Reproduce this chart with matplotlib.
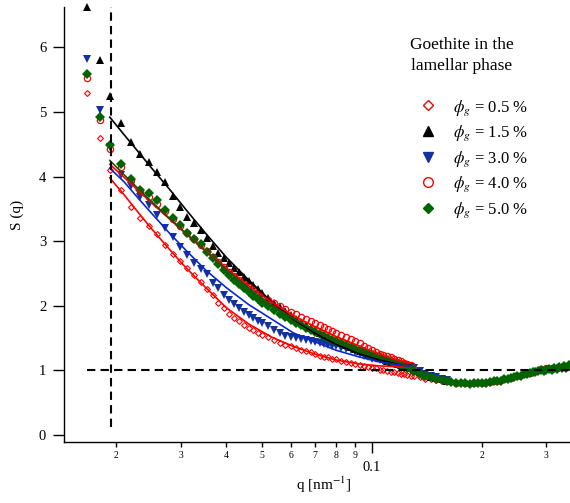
import numpy as np
import matplotlib
matplotlib.use("Agg")
import matplotlib.pyplot as plt
from matplotlib.lines import Line2D
from matplotlib.ticker import NullLocator

plt.rcParams["font.family"] = ["Liberation Serif", "DejaVu Serif"]
plt.rcParams["mathtext.fontset"] = "stix"

# q grid shared by every series at low q (nm^-1)
q_lo = [0.0166, 0.0180, 0.0192, 0.0206, 0.0219, 0.0232, 0.0246, 0.0258, 0.0272, 0.0285,
        0.0299, 0.0313, 0.0326, 0.0340, 0.0353, 0.0367, 0.0380, 0.0394, 0.0407, 0.0420,
        0.0434, 0.0447, 0.0461, 0.0474, 0.0488, 0.0501, 0.0520, 0.0540, 0.0560, 0.0580,
        0.0600, 0.0620, 0.0640, 0.0660, 0.0680, 0.0700, 0.0720, 0.0740, 0.0760, 0.0780,
        0.0800, 0.0825, 0.0850, 0.0875, 0.0900, 0.0925, 0.0950, 0.0975, 0.1000, 0.1025,
        0.1050, 0.1075, 0.1100, 0.1125, 0.1150, 0.1175, 0.1200, 0.1225, 0.1250, 0.1275]

s05 = [5.29, 4.60, 4.10, 3.79, 3.53, 3.36, 3.24, 3.11, 2.94, 2.80,
       2.69, 2.58, 2.47, 2.37, 2.26, 2.16, 2.05, 1.96, 1.88, 1.81,
       1.76, 1.71, 1.66, 1.62, 1.58, 1.55, 1.51, 1.47, 1.43, 1.40,
       1.37, 1.34, 1.32, 1.30, 1.28, 1.26, 1.23, 1.21, 1.20, 1.18,
       1.17, 1.15, 1.13, 1.11, 1.10, 1.08, 1.07, 1.05, 1.04, 1.03,
       1.01, 1.00, 0.99, 0.98, 0.97, 0.96, 0.95, 0.94, 0.93, 0.92]
s15 = [6.62, 5.80, 5.24, 4.83, 4.53, 4.35, 4.22, 4.07, 3.92, 3.70,
       3.53, 3.38, 3.28, 3.17, 3.05, 2.92, 2.82, 2.74, 2.67, 2.59,
       2.52, 2.45, 2.38, 2.32, 2.26, 2.20, 2.12, 2.05, 1.98, 1.92,
       1.86, 1.80, 1.75, 1.70, 1.66, 1.62, 1.58, 1.54, 1.51, 1.48,
       1.45, 1.42, 1.39, 1.36, 1.33, 1.30, 1.28, 1.25, 1.23, 1.21,
       1.19, 1.17, 1.15, 1.13, 1.11, 1.10, 1.08, 1.06, 1.05, 1.03]
s30 = [5.82, 5.03, 4.46, 4.02, 3.85, 3.68, 3.56, 3.41, 3.21, 3.07,
       2.91, 2.78, 2.67, 2.57, 2.49, 2.36, 2.27, 2.16, 2.09, 2.02,
       1.96, 1.90, 1.85, 1.81, 1.77, 1.73, 1.68, 1.63, 1.58, 1.54,
       1.52, 1.50, 1.49, 1.47, 1.46, 1.44, 1.42, 1.41, 1.40, 1.38,
       1.37, 1.35, 1.33, 1.31, 1.29, 1.26, 1.22, 1.20, 1.18, 1.17,
       1.16, 1.14, 1.13, 1.12, 1.11, 1.10, 1.09, 1.08, 1.07, 1.06]
s40 = [5.52, 4.87, 4.43, 4.15, 3.95, 3.78, 3.68, 3.58, 3.46, 3.34,
       3.23, 3.12, 3.03, 2.94, 2.85, 2.76, 2.68, 2.60, 2.53, 2.46,
       2.40, 2.34, 2.29, 2.24, 2.19, 2.14, 2.09, 2.04, 1.99, 1.95,
       1.91, 1.87, 1.83, 1.79, 1.76, 1.73, 1.70, 1.67, 1.64, 1.61,
       1.58, 1.55, 1.51, 1.48, 1.45, 1.42, 1.38, 1.35, 1.32, 1.29,
       1.26, 1.24, 1.22, 1.20, 1.18, 1.16, 1.14, 1.12, 1.10, 1.08]
s50 = [5.59, 4.93, 4.49, 4.19, 3.97, 3.80, 3.75, 3.64, 3.49, 3.36,
       3.25, 3.13, 3.04, 2.96, 2.84, 2.74, 2.64, 2.55, 2.47, 2.40,
       2.33, 2.27, 2.21, 2.15, 2.10, 2.05, 1.99, 1.93, 1.87, 1.82,
       1.78, 1.74, 1.70, 1.66, 1.62, 1.59, 1.56, 1.53, 1.50, 1.47,
       1.45, 1.42, 1.39, 1.36, 1.33, 1.31, 1.28, 1.26, 1.24, 1.22,
       1.20, 1.18, 1.16, 1.14, 1.12, 1.10, 1.08, 1.06, 1.04, 1.02]

# a few more points just past the fit range
q_ext = [0.130, 0.135, 0.140, 0.145, 0.150, 0.155, 0.160]
s05_ext = [0.91, 0.89, 0.87, 0.86, 0.85, 0.84, 0.83]
s15_ext = [1.01, 0.97, 0.93, 0.90, 0.88, 0.86, 0.84]
s30_ext = [1.03, 0.99, 0.95, 0.92, 0.89, 0.87, 0.85]

# high-q tail
q_tail50 = [0.130, 0.135, 0.140, 0.145, 0.150, 0.155, 0.160, 0.165, 0.170, 0.175,
            0.180, 0.185, 0.190, 0.195, 0.200, 0.205, 0.210, 0.215, 0.220, 0.225,
            0.230, 0.235, 0.240, 0.245, 0.250, 0.255, 0.260, 0.265, 0.270, 0.275,
            0.280, 0.285, 0.290, 0.295, 0.300, 0.305, 0.310, 0.315, 0.320, 0.325,
            0.330, 0.335, 0.340, 0.345, 0.350]
s50_tail = [0.99, 0.95, 0.92, 0.89, 0.87, 0.85, 0.83, 0.82, 0.81, 0.80,
            0.80, 0.79, 0.80, 0.80, 0.81, 0.81, 0.82, 0.83, 0.84, 0.84,
            0.86, 0.87, 0.88, 0.89, 0.91, 0.92, 0.94, 0.95, 0.96, 0.98,
            0.97, 0.99, 1.01, 0.99, 1.00, 1.02, 1.01, 1.03, 1.02, 1.05,
            1.04, 1.07, 1.04, 1.08, 1.06]
q_tail40 = [0.13, 0.14, 0.15, 0.16, 0.17, 0.18, 0.19, 0.20, 0.21, 0.22, 0.23,
            0.24, 0.25, 0.26, 0.27, 0.28, 0.29, 0.30, 0.31, 0.32, 0.33, 0.34]
s40_tail = [0.99, 0.92, 0.87, 0.83, 0.81, 0.80, 0.80, 0.81, 0.82, 0.84, 0.86,
            0.88, 0.91, 0.94, 0.96, 0.99, 1.02, 1.03, 1.03, 1.04, 1.06, 1.07]

# model fits
q_fit = [0.0192, 0.021, 0.023, 0.025, 0.028, 0.031, 0.035, 0.040, 0.046,
         0.053, 0.061, 0.070, 0.080, 0.092, 0.105, 0.1175, 0.127]
fit05 = [3.98, 3.72, 3.44, 3.19, 2.87, 2.59, 2.29, 1.97, 1.72, 1.52, 1.37, 1.25, 1.16, 1.10, 1.07, 1.055, 1.05]
fit15 = [4.92, 4.65, 4.38, 4.13, 3.80, 3.49, 3.13, 2.75, 2.40, 2.07, 1.79, 1.57, 1.40, 1.26, 1.16, 1.10, 1.08]
fit30 = [4.13, 3.92, 3.66, 3.43, 3.12, 2.86, 2.56, 2.28, 2.02, 1.80, 1.58, 1.44, 1.31, 1.21, 1.13, 1.09, 1.06]
fit40 = [4.19, 3.99, 3.78, 3.59, 3.34, 3.12, 2.86, 2.58, 2.31, 2.06, 1.85, 1.67, 1.52, 1.38, 1.25, 1.16, 1.11]
fit50 = [4.25, 4.03, 3.81, 3.61, 3.35, 3.12, 2.85, 2.56, 2.28, 2.02, 1.80, 1.61, 1.46, 1.32, 1.20, 1.12, 1.07]

labels = [r"$\phi_g$ = 0.5 %", r"$\phi_g$ = 1.5 %", r"$\phi_g$ = 3.0 %",
          r"$\phi_g$ = 4.0 %", r"$\phi_g$ = 5.0 %"]
minor_ticks = [0.02, 0.03, 0.04, 0.05, 0.06, 0.07, 0.08, 0.09, 0.2, 0.3]
minor_labels = ["2", "3", "4", "5", "6", "7", "8", "9", "2", "3"]

q_cut = 0.0194      # vertical guide
q_guide0 = 0.0166   # where the S = 1 guide starts

RED, BLACK, BLUE, GREEN = "#ff0000", "#000000", "#14329b", "#006400"
BLUE_LINE, OLIVE = "#0a28d2", "#2e4a10"

fig = plt.figure(figsize=(5.70, 5.03), dpi=100)
ax = fig.add_axes([64.3 / 570, 61.3 / 503, 505.7 / 570, 435 / 503])

pts = dict(ls="none", clip_on=False)
ax.plot(q_lo + q_ext, s05 + s05_ext, marker="D", ms=3.0, mfc="none", mec=RED, mew=0.8, **pts)
ax.plot(q_lo + q_ext, s15 + s15_ext, marker="^", ms=5.5, color=BLACK, mew=0, **pts)
ax.plot(q_lo + q_ext, s30 + s30_ext, marker="v", ms=5.2, color=BLUE, mew=0, **pts)
ax.plot(q_lo + q_tail40, s40 + s40_tail, marker="o", ms=4.5, mfc="none", mec=RED, mew=0.9, **pts)
ax.plot(q_lo + q_tail50, s50 + s50_tail, marker="D", ms=5.0, color=GREEN, mew=0, **pts)

for fit, c in [(fit05, RED), (fit15, BLACK), (fit30, BLUE_LINE), (fit40, RED), (fit50, OLIVE)]:
    ax.plot(q_fit, fit, color=c, lw=1.2, zorder=3)

dash = (0, (4, 2.5))
ax.vlines(q_cut, 0.12, 6.63, color="k", lw=1.5, ls=dash, zorder=4, clip_on=False)
ax.hlines(1.0, q_guide0, 0.348, color="k", lw=1.5, ls=dash, zorder=4)

ax.set_xscale("log")
ax.set_xlim(0.01442, 0.348)
ax.set_ylim(-0.104, 6.63)
ax.set_xticks([0.1], ["0.1"])
ax.set_xticks(minor_ticks, minor_labels, minor=True)
ax.set_yticks(range(7))
ax.yaxis.set_minor_locator(NullLocator())
ax.tick_params(axis="x", which="major", length=7.7, width=1, pad=6, labelsize=10.5)
ax.tick_params(axis="x", which="minor", length=3.4, width=1, pad=3, labelsize=7)
ax.tick_params(axis="y", length=8, width=1, pad=5, labelsize=10.5)
for side in ["top", "right"]:
    ax.spines[side].set_visible(False)
for side in ["left", "bottom"]:
    ax.spines[side].set_linewidth(1)

ax.set_ylabel("S (q)", fontsize=11)
ax.yaxis.set_label_coords(-0.0790, 0.521)
ax.set_xlabel(r"q [nm$^{-1}$]", fontsize=11)
ax.xaxis.set_label_coords(0.5135, -0.0766)

handles = [
    Line2D([], [], ls="none", marker="D", ms=5.0, mfc="none", mec=RED, mew=1),
    Line2D([], [], ls="none", marker="^", ms=7.2, color=BLACK),
    Line2D([], [], ls="none", marker="v", ms=7.2, color=BLUE),
    Line2D([], [], ls="none", marker="o", ms=7.0, mfc="none", mec=RED, mew=1),
    Line2D([], [], ls="none", marker="D", ms=5.0, color=GREEN),
]
ax.legend(handles, labels, loc="upper left", bbox_to_anchor=(419.4 / 570, 1 - 98 / 503),
          bbox_transform=fig.transFigure, frameon=False, fontsize=12,
          handlelength=1.0, handletextpad=1.0, labelspacing=0.36,
          borderpad=0, borderaxespad=0)
fig.text(462 / 570, 1 - 37 / 503, "Goethite in the\nlamellar phase", ha="center", va="top",
         fontsize=12.5, linespacing=1.4, multialignment="center")

fig.savefig("out.png", dpi=100)
